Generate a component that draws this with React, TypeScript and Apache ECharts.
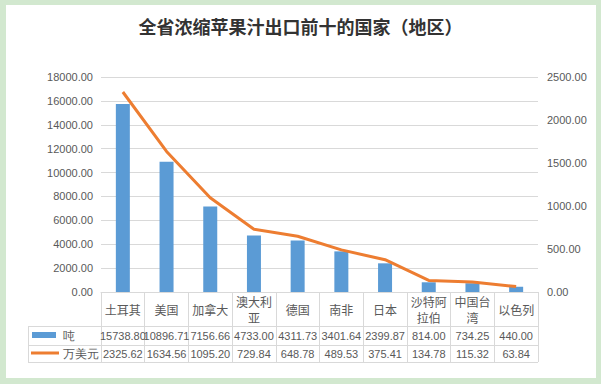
import React, { useEffect, useRef } from "react";
import * as echarts from "echarts";

const categories = ["土耳其", "美国", "加拿大", "澳大利亚", "德国", "南非", "日本", "沙特阿拉伯", "中国台湾", "以色列"];
const tons = [15738.8, 10896.71, 7156.66, 4733.0, 4311.73, 3401.64, 2399.87, 814.0, 734.25, 440.0];
const usd = [2325.62, 1634.56, 1095.2, 729.84, 648.78, 489.53, 375.41, 134.78, 115.32, 63.84];
const seriesNames = ["吨", "万美元"];
const titleText = "全省浓缩苹果汁出口前十的国家（地区）";

const BLUE = "#5b9bd5";
const ORANGE = "#ed7d31";
const GRIDC = "#d9d9d9";
const TXT = "#595959";
const FONT = "'Liberation Sans', 'Noto Sans CJK SC', sans-serif";

export default function App() {
  const ref = useRef<HTMLDivElement>(null);
  useEffect(() => {
    if (!ref.current) return;
    const chart = echarts.init(ref.current, undefined, { renderer: "svg" });
    const fmt = (v: number) => v.toFixed(2);
    const gl = { stroke: GRIDC, lineWidth: 1 };
    chart.setOption({
      animation: false,
      backgroundColor: "transparent",
      textStyle: { fontFamily: FONT },
      title: {
        text: titleText,
        left: "center",
        top: 12,
        textStyle: { fontSize: 18, fontWeight: "bold", color: "#333", fontFamily: "'Noto Sans CJK SC', serif" },
      },
      legend: { show: false },
      grid: { left: 101, right: 63, top: 77, bottom: 92, containLabel: false },
      xAxis: [
        {
          type: "category",
          data: categories,
          position: "bottom",
          axisLine: { lineStyle: { color: GRIDC } },
          axisTick: { show: true, interval: 0, length: 70, lineStyle: { color: GRIDC } },
          axisLabel: {
            interval: 0,
            margin: 17,
            verticalAlign: "middle",
            lineHeight: 16,
            fontSize: 12,
            color: TXT,
            width: 40,
            overflow: "break",
            fontFamily: "'Noto Sans CJK SC', sans-serif",
          },
          splitLine: { show: false },
        },
        {
          type: "category",
          data: tons.map(fmt),
          position: "bottom",
          axisLine: { show: false },
          axisTick: { show: false },
          axisLabel: { interval: 0, margin: 43.5, verticalAlign: "middle", fontSize: 11, color: TXT },
          splitLine: { show: false },
        },
        {
          type: "category",
          data: usd.map(fmt),
          position: "bottom",
          axisLine: { show: false },
          axisTick: { show: false },
          axisLabel: { interval: 0, margin: 61.5, verticalAlign: "middle", fontSize: 11, color: TXT },
          splitLine: { show: false },
        },
      ],
      yAxis: [
        {
          type: "value",
          min: 0,
          max: 18000,
          interval: 2000,
          position: "left",
          axisLine: { show: false },
          axisTick: { show: false },
          axisLabel: { formatter: (v: number) => v.toFixed(2), fontSize: 11, color: TXT, margin: 8 },
          splitLine: { lineStyle: { color: GRIDC } },
        },
        {
          type: "value",
          min: 0,
          max: 2500,
          interval: 500,
          position: "right",
          axisLine: { show: false },
          axisTick: { show: false },
          axisLabel: { formatter: (v: number) => v.toFixed(2), fontSize: 11, color: TXT, margin: 9 },
          splitLine: { show: false },
        },
      ],
      series: [
        {
          name: seriesNames[0],
          type: "bar",
          xAxisIndex: 0,
          yAxisIndex: 0,
          data: tons,
          barWidth: 14,
          itemStyle: { color: BLUE },
          z: 2,
        },
        {
          name: seriesNames[1],
          type: "line",
          xAxisIndex: 0,
          yAxisIndex: 1,
          data: usd,
          symbol: "none",
          lineStyle: { color: ORANGE, width: 3 },
          itemStyle: { color: ORANGE },
          z: 3,
        },
      ],
      graphic: [
        { type: "line", shape: { x1: 28, y1: 326.5, x2: 538, y2: 326.5 }, style: gl, silent: true },
        { type: "line", shape: { x1: 28, y1: 345.5, x2: 538, y2: 345.5 }, style: gl, silent: true },
        { type: "line", shape: { x1: 28, y1: 362.5, x2: 538, y2: 362.5 }, style: gl, silent: true },
        { type: "line", shape: { x1: 28.5, y1: 326, x2: 28.5, y2: 363 }, style: gl, silent: true },
        { type: "rect", shape: { x: 32, y: 332, width: 24, height: 6 }, style: { fill: BLUE }, silent: true },
        {
          type: "text",
          x: 63,
          y: 336,
          style: { text: seriesNames[0], fontSize: 12, fill: TXT, verticalAlign: "middle", font: "12px 'Noto Sans CJK SC', sans-serif" },
          silent: true,
        },
        { type: "line", shape: { x1: 31, y1: 353, x2: 59, y2: 353 }, style: { stroke: ORANGE, lineWidth: 3 }, silent: true },
        {
          type: "text",
          x: 63,
          y: 354,
          style: { text: seriesNames[1], fontSize: 12, fill: TXT, verticalAlign: "middle", font: "12px 'Noto Sans CJK SC', sans-serif" },
          silent: true,
        },
      ],
    });
    return () => chart.dispose();
  }, []);
  return (
    <div style={{ position: "fixed", left: 0, top: 0, width: 601, height: 384, background: "#d2e8cf" }}>
      <div style={{ position: "absolute", left: 6, top: 5, width: 590, height: 373, background: "#ffffff" }} />
      <div ref={ref} style={{ position: "absolute", left: 0, top: 0, width: 601, height: 384 }} />
    </div>
  );
}
